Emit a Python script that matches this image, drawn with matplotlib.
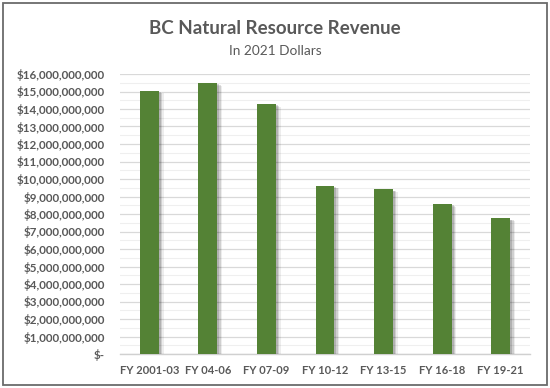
import matplotlib
matplotlib.use("Agg")
import matplotlib.pyplot as plt
from matplotlib.ticker import MultipleLocator, FuncFormatter
from matplotlib import patheffects as pe
from matplotlib.patches import Rectangle

categories = ["FY 2001-03", "FY 04-06", "FY 07-09", "FY 10-12", "FY 13-15", "FY 16-18", "FY 19-21"]
revenue = [15.05e9, 15.5e9, 14.29e9, 9.62e9, 9.41e9, 8.57e9, 7.75e9]

title = "BC Natural Resource Revenue"
subtitle = "In 2021 Dollars"

plt.rcParams['font.family'] = ['Lato', 'DejaVu Sans']
text_color = "#595959"

fig = plt.figure(figsize=(5.5, 3.88), dpi=100)
ax = fig.add_axes([120/550, 34/388, 410/550, 280/388])

x = range(len(categories))
shadow = [pe.SimplePatchShadow(offset=(3.5, -2), shadow_rgbFace="#000000", alpha=0.07),
          pe.SimplePatchShadow(offset=(2.5, -1.5), shadow_rgbFace="#000000", alpha=0.12),
          pe.SimplePatchShadow(offset=(1.5, -1), shadow_rgbFace="#000000", alpha=0.15),
          pe.Normal()]
bars = ax.bar(x, revenue, width=0.32, color="#548235", zorder=3)
for b in bars:
    b.set_path_effects(shadow)

ax.set_xlim(-0.5, len(categories) - 0.5)
ax.set_ylim(0, 16e9)
ax.yaxis.set_major_locator(MultipleLocator(1e9))
ax.yaxis.set_minor_locator(MultipleLocator(0.5e9))

def fmt(v, pos):
    if abs(v) < 1:
        return "$-"
    return "${:,.0f}".format(v)
ax.yaxis.set_major_formatter(FuncFormatter(fmt))

ax.grid(axis='y', which='major', color="#d9d9d9", linewidth=0.9, zorder=0)
ax.grid(axis='y', which='minor', color="#efefef", linewidth=0.8, zorder=0)
ax.set_axisbelow(True)

for s in ["top", "right", "left"]:
    ax.spines[s].set_visible(False)
ax.spines["bottom"].set_color("#d0d0d0")
ax.spines["bottom"].set_linewidth(1.0)

ax.set_xticks(list(x))
ax.set_xticklabels(categories)
ax.tick_params(axis='both', which='both', length=0, colors=text_color)
ax.tick_params(axis='y', pad=11)
ax.tick_params(axis='x', pad=8)
for lab in ax.get_yticklabels():
    lab.set_fontsize(8.4)
    lab.set_fontweight("bold")
    lab.set_color(text_color)
for lab in ax.get_xticklabels():
    lab.set_fontsize(8)
    lab.set_fontweight("bold")
    lab.set_color(text_color)

fig.text(0.5, 1 - 28/388, title, ha="center", va="center", fontsize=13.5,
         fontweight="bold", color=text_color)
fig.text(0.5, 1 - 51/388, subtitle, ha="center", va="center", fontsize=9.8,
         color=text_color)

fig.patches.append(Rectangle((3/550, 3/388), 544/550, 382/388, transform=fig.transFigure,
                             fill=False, edgecolor="#6b6b6b", linewidth=1.3))

fig.savefig("out.png", dpi=100, facecolor="white")
